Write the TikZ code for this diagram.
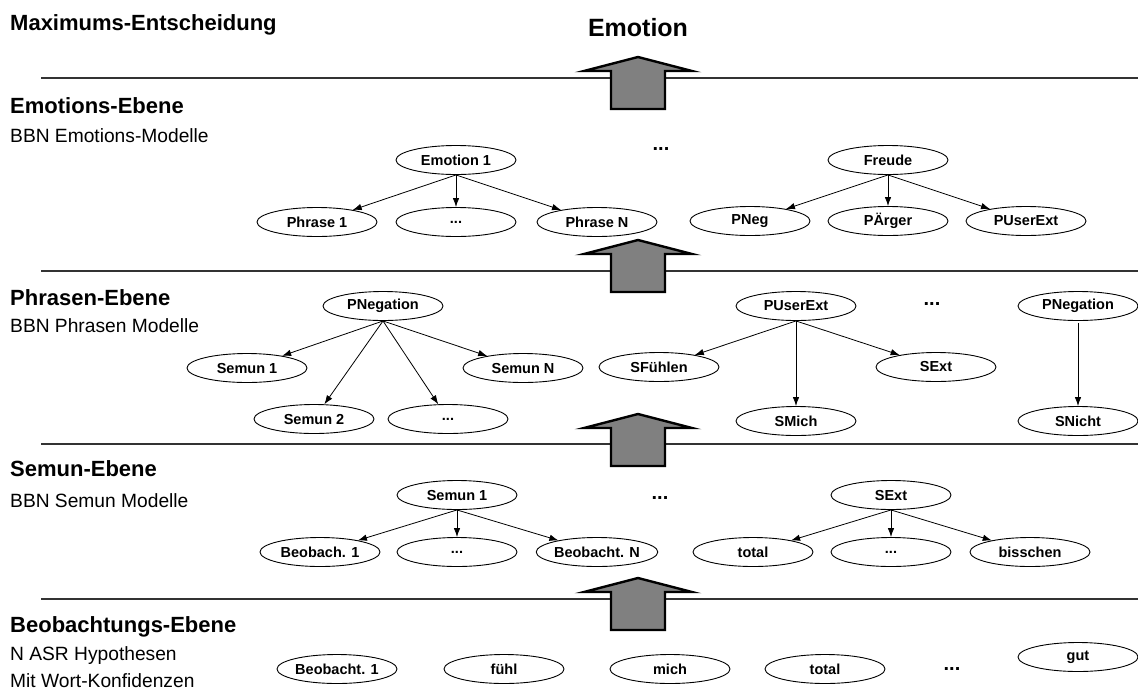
\documentclass[tikz,border=0pt]{standalone}
\usepackage{fontspec}
\setmainfont{Liberation Sans}
\usetikzlibrary{shapes.geometric,arrows.meta}
\begin{document}
\begin{tikzpicture}[x=1pt,y=-1pt,
  lvl/.style={ellipse,draw,line width=0.9pt,minimum width=120pt,minimum height=29pt,inner sep=0pt,font=\fontsize{14.5}{16}\selectfont\bfseries},
  conn/.style={-{Latex[length=9pt,width=6.5pt]},line width=0.8pt},
  sepline/.style={line width=1.3pt,draw=black!80},
  headtxt/.style={font=\fontsize{22}{26}\selectfont\bfseries,anchor=base west,inner sep=0pt},
  subtxt/.style={font=\fontsize{19.2}{23}\selectfont,anchor=base west,inner sep=0pt},
  dotstxt/.style={font=\fontsize{20}{24}\selectfont\bfseries,anchor=base,inner sep=0pt},
  bigarrow/.style={fill=black!50,draw=black,line width=2.4pt,line join=miter},
]
\useasboundingbox (0,0) rectangle (1138,689);

% separator lines
\coordinate (l1a) at (41,78);  \coordinate (l1b) at (1138,78);
\coordinate (l2a) at (41,271); \coordinate (l2b) at (1138,271);
\coordinate (l3a) at (41,444); \coordinate (l3b) at (1138,444);
\coordinate (l4a) at (41,599); \coordinate (l4b) at (1138,599);
\draw[sepline] (l1a) -- (l1b);
\draw[sepline] (l2a) -- (l2b);
\draw[sepline] (l3a) -- (l3b);
\draw[sepline] (l4a) -- (l4b);

% big arrows
\foreach \ty in {57,240,414,578}{
  \draw[bigarrow] (638,\ty) -- (692,\ty+14) -- (665,\ty+14) -- (665,\ty+52)
     -- (611,\ty+52) -- (611,\ty+14) -- (584,\ty+14) -- cycle;
}

% titles and level labels
\node[headtxt] (tmax) at (10,30) {Maximums-Entscheidung};
\node[font=\fontsize{25}{30}\selectfont\bfseries,anchor=base,inner sep=0pt] (temo) at (638,36) {Emotion};

\node[headtxt] (hemo) at (10,113) {Emotions-Ebene};
\node[subtxt] (semo) at (10,142) {BBN Emotions-Modelle};
\node[headtxt] (hphr) at (10,305) {Phrasen-Ebene};
\node[subtxt] (sphr) at (10,332) {BBN Phrasen Modelle};
\node[headtxt] (hsem) at (10,476) {Semun-Ebene};
\node[subtxt] (ssem) at (10,507) {BBN Semun Modelle};
\node[headtxt] (hbeo) at (10,632) {Beobachtungs-Ebene};
\node[subtxt] (sbeo1) at (10,660) {N ASR Hypothesen};
\node[subtxt] (sbeo2) at (10,687) {Mit Wort-Konfidenzen};

% Emotions-Ebene
\node[lvl] (e1) at (456,160) {Emotion 1};
\node[lvl] (p1) at (317,222) {Phrase 1};
\node[lvl] (pd) at (456,222) {...};
\node[lvl] (pN) at (597,222) {Phrase N};
\node[dotstxt] (d1) at (661,150) {...};
\node[lvl] (fr) at (888,160) {Freude};
\node[lvl] (pneg) at (750,221) {PNeg};
\node[lvl] (parg) at (888,221) {PÄrger};
\node[lvl] (pue) at (1026,221) {PUserExt};
\draw[conn] (e1.south) -- (p1);
\draw[conn] (e1.south) -- (pd);
\draw[conn] (e1.south) -- (pN);
\draw[conn] (fr.south) -- (pneg);
\draw[conn] (fr.south) -- (parg);
\draw[conn] (fr.south) -- (pue);

% Phrasen-Ebene
\node[lvl] (pn1) at (383,306) {PNegation};
\node[lvl] (s1) at (247,368) {Semun 1};
\node[lvl] (sN) at (523,368) {Semun N};
\node[lvl] (s2) at (314,419) {Semun 2};
\node[lvl] (sd) at (448,419) {...};
\draw[conn] (pn1.south) -- (s1);
\draw[conn] (pn1.south) -- (sN);
\draw[conn] (pn1.south) -- (s2);
\draw[conn] (pn1.south) -- (sd);

\node[lvl] (pu) at (796,306) {PUserExt};
\node[lvl] (sf) at (659,367) {SFühlen};
\node[lvl] (se) at (936,367) {SExt};
\node[lvl] (sm) at (796,421) {SMich};
\draw[conn] (pu.south) -- (sf);
\draw[conn] (pu.south) -- (se);
\draw[conn] (pu.south) -- (sm);
\node[dotstxt] (d2) at (932,305) {...};

\node[lvl] (pn2) at (1078,306) {PNegation};
\node[lvl] (sn) at (1078,421) {SNicht};
\draw[conn,shorten <=2pt] (pn2) -- (sn);

% Semun-Ebene
\node[lvl] (sem1) at (457,495) {Semun 1};
\node[lvl] (b1) at (320,552) {Beobach. 1};
\node[lvl] (bd) at (457,552) {...};
\node[lvl] (bN) at (597,552) {Beobacht. N};
\draw[conn] (sem1.south) -- (b1);
\draw[conn] (sem1.south) -- (bd);
\draw[conn] (sem1.south) -- (bN);
\node[dotstxt] (d3) at (660,499) {...};
\node[lvl] (sx) at (891,495) {SExt};
\node[lvl] (tot) at (753,552) {total};
\node[lvl] (td) at (891,552) {...};
\node[lvl] (bis) at (1030,552) {bisschen};
\draw[conn] (sx.south) -- (tot);
\draw[conn] (sx.south) -- (td);
\draw[conn] (sx.south) -- (bis);

% Beobachtungs-Ebene
\node[lvl] (o1) at (337,669) {Beobacht. 1};
\node[lvl] (o2) at (504,669) {fühl};
\node[lvl] (o3) at (670,669) {mich};
\node[lvl] (o4) at (825,669) {total};
\node[dotstxt] (d4) at (952,670) {...};
\node[lvl] (o5) at (1078,657) {gut};
\end{tikzpicture}
\end{document}
